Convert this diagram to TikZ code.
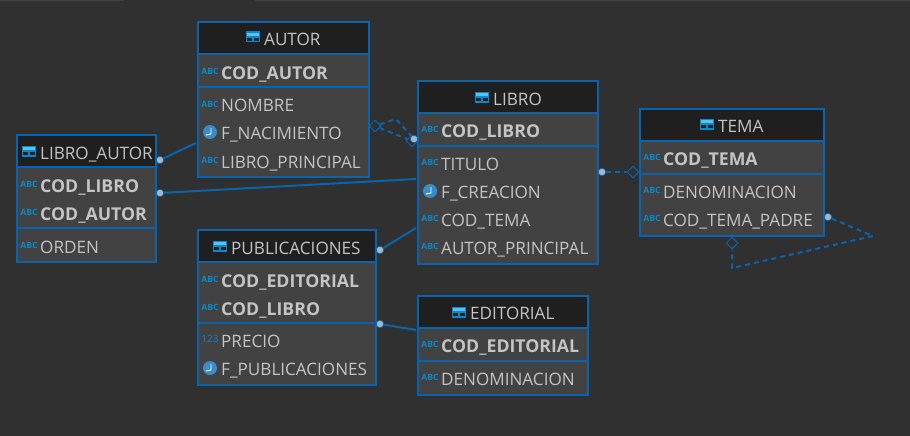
\documentclass[tikz,border=0pt]{standalone}
\usepackage{fontspec}
\setmainfont{Open Sans}
\usetikzlibrary{shapes.geometric}
\definecolor{bgc}{HTML}{303030}
\definecolor{headc}{HTML}{1F1F1F}
\definecolor{bodyc}{HTML}{424242}
\definecolor{edgec}{HTML}{0A64AD}
\definecolor{txtc}{HTML}{C4C4C4}
\definecolor{iconc}{HTML}{0A88CC}
\definecolor{dotc}{HTML}{A4B6C8}
\definecolor{clockc}{HTML}{3A8CC8}
\definecolor{paneC}{HTML}{5CC0EE}
\tikzset{
  x=1pt,y=-1pt,
  tablebox/.style={draw=edgec,line width=2pt,fill=bodyc,rectangle,inner sep=0pt,outer sep=0pt},
  rowline/.style={draw=edgec,line width=1.1pt},
  headtext/.style={anchor=base west,yshift=-6pt,inner sep=0pt,text=txtc,font=\fontsize{17.1}{20}\selectfont},
  plainfield/.style={anchor=base west,yshift=-6pt,inner sep=0pt,text=txtc,font=\fontsize{17.1}{20}\selectfont},
  keyfield/.style={anchor=base west,yshift=-6pt,inner sep=0pt,text=txtc,font=\fontsize{17.7}{20}\selectfont\bfseries},
  typeicon/.style={anchor=center,inner sep=0pt,text=iconc,font=\fontsize{8.6}{10}\selectfont\bfseries},
  numicon/.style={anchor=center,inner sep=0pt,text=iconc,font=\fontsize{10}{11}\selectfont},
  link/.style={draw=edgec,line width=2pt},
  dashlink/.style={draw=edgec,line width=2pt,dash pattern=on 5pt off 4pt},
  portdot/.style={circle,fill=dotc,draw=edgec,line width=.6pt,minimum size=7.5pt,inner sep=0pt},
  hollowtip/.style={diamond,draw=edgec,line width=1pt,fill=none,minimum size=12pt,inner sep=0pt},
}
\newcommand{\tabicon}[2]{%
  \fill[iconc] (#1-7,#2-5.5) rectangle (#1+7,#2+5.5);
  \fill[paneC] (#1-5.6,#2-3.7) rectangle (#1+5.6,#2-.8);
  \fill[headc] (#1-5.6,#2+.7) rectangle (#1-.6,#2+4);
  \fill[headc] (#1+.6,#2+.7) rectangle (#1+5.6,#2+4);
}
\newcommand{\clockicon}[2]{%
  \fill[clockc] (#1,#2) circle (7);
  \draw[white,line width=.9pt] (#1+1,#2-4) -- (#1+1,#2+2) -- (#1-4,#2+3);
}
\newcommand{\maketable}[7]{% name, x1,y1,x2,y2, header bottom, divider
  \node[tablebox,minimum width=#4-#2,minimum height=#5-#3,anchor=north west] (#1) at (#2,#3) {};
  \fill[headc] (#2+1,#3+1) rectangle (#4-1,#6);
  \draw[rowline] (#2,#6) -- (#4,#6);
  \draw[rowline] (#2,#7) -- (#4,#7);
}
\begin{document}
\begin{tikzpicture}
\useasboundingbox (0,0) rectangle (910,436);
\fill[bgc] (0,0) rectangle (910,436);
\fill[bodyc] (0,0) rectangle (124,1);
\fill[bodyc] (255,0) rectangle (910,1);

\coordinate (laA) at (160,160);
\coordinate (laB) at (160,193);
\coordinate (pubA) at (380,250);
\coordinate (pubB) at (380,324);
\coordinate (lbT) at (602,172);
\coordinate (temaP) at (828,217);
\coordinate (bendA) at (396,119);
\coordinate (bendB) at (873,236);
\coordinate (bendC) at (732,268);
\coordinate (inAutor) at (196,143);
\coordinate (inLibroA) at (416,179);
\coordinate (inLibroB) at (416,228);
\coordinate (inEdit) at (416,330);

\maketable{autor}{198}{22}{369}{177}{54}{87}
\maketable{libroautor}{17}{135}{156}{262}{167}{228}
\maketable{publi}{198}{230}{376}{385}{262}{323}
\maketable{libro}{418}{81}{598}{264}{113}{146}
\maketable{tema}{640}{109}{824}{236}{141}{174}
\maketable{editorial}{418}{296}{588}{395}{328}{361}

\node[portdot] (dLaA) at (laA) {};
\node[portdot] (dLaB) at (laB) {};
\node[portdot] (dPubA) at (pubA) {};
\node[portdot] (dPubB) at (pubB) {};
\node[portdot] (dLbT) at (lbT) {};
\node[portdot] (dTema) at (temaP) {};
\node[hollowtip] (tipAutor) at (375,126) {};
\node[hollowtip] (tipLibro) at (412,141) {};
\node[hollowtip] (tipTema) at (633,172) {};
\node[hollowtip] (tipSelf) at (732,243) {};
\node[portdot] (dLbA) at (414,139) {};

\draw[link] (dLaA) -- (inAutor);
\draw[link] (dLaB) -- (inLibroA);
\draw[link] (dPubA) -- (inLibroB);
\draw[link] (dPubB) -- (inEdit);
\draw[dashlink] (tipAutor) -- (bendA) -- (dLbA);
\draw[dashlink] (tipAutor) -- (tipLibro);
\draw[dashlink] (dLbT) -- (tipTema);
\draw[dashlink] (dTema) -- (bendB) -- (bendC) -- (tipSelf);

% AUTOR
\tabicon{253}{37}
\node[headtext] (autorH) at (264,39.5) {AUTOR};
\node[typeicon] (a1i) at (210,71) {ABC};
\node[keyfield] (a1) at (221,73) {COD\_AUTOR};
\node[typeicon] (a2i) at (210,104) {ABC};
\node[plainfield] (a2) at (221,105.5) {NOMBRE};
\clockicon{210}{132}
\node[plainfield] (a3) at (221,133.5) {F\_NACIMIENTO};
\node[typeicon] (a4i) at (210,160) {ABC};
\node[plainfield] (a4) at (221,162) {LIBRO\_PRINCIPAL};

% LIBRO_AUTOR
\tabicon{29}{151}
\node[headtext] (laH) at (40,153) {LIBRO\_AUTOR};
\node[typeicon] (l1i) at (29,184) {ABC};
\node[keyfield] (l1) at (40,186) {COD\_LIBRO};
\node[typeicon] (l2i) at (29,212) {ABC};
\node[keyfield] (l2) at (40,214) {COD\_AUTOR};
\node[typeicon] (l3i) at (29,245) {ABC};
\node[plainfield] (l3) at (40,247) {ORDEN};

% PUBLICACIONES
\tabicon{220}{246}
\node[headtext] (pH) at (231,248) {PUBLICACIONES};
\node[typeicon] (p1i) at (210,279) {ABC};
\node[keyfield] (p1) at (221,281) {COD\_EDITORIAL};
\node[typeicon] (p2i) at (210,307) {ABC};
\node[keyfield] (p2) at (221,309) {COD\_LIBRO};
\node[numicon] (p3i) at (210,339) {123};
\node[plainfield] (p3) at (221,341) {PRECIO};
\clockicon{210}{368}
\node[plainfield] (p4) at (221,369.5) {F\_PUBLICACIONES};

% LIBRO
\tabicon{482}{97}
\node[headtext] (lbH) at (493,99) {LIBRO};
\node[typeicon] (b1i) at (430,129) {ABC};
\node[keyfield] (b1) at (441,131.5) {COD\_LIBRO};
\node[typeicon] (b2i) at (430,162) {ABC};
\node[plainfield] (b2) at (441,164) {TITULO};
\clockicon{430}{191}
\node[plainfield] (b3) at (441,192.5) {F\_CREACION};
\node[typeicon] (b4i) at (430,218) {ABC};
\node[plainfield] (b4) at (441,220.5) {COD\_TEMA};
\node[typeicon] (b5i) at (430,246) {ABC};
\node[plainfield] (b5) at (441,248.5) {AUTOR\_PRINCIPAL};

% TEMA
\tabicon{707}{124}
\node[headtext] (tH) at (718,126) {TEMA};
\node[typeicon] (t1i) at (652,157) {ABC};
\node[keyfield] (t1) at (663,159.5) {COD\_TEMA};
\node[typeicon] (t2i) at (652,190) {ABC};
\node[plainfield] (t2) at (663,192.5) {DENOMINACION};
\node[typeicon] (t3i) at (652,218) {ABC};
\node[plainfield] (t3) at (663,220.5) {COD\_TEMA\_PADRE};

% EDITORIAL
\tabicon{459}{312}
\node[headtext] (eH) at (470,313.5) {EDITORIAL};
\node[typeicon] (e1i) at (430,344) {ABC};
\node[keyfield] (e1) at (441,346.5) {COD\_EDITORIAL};
\node[typeicon] (e2i) at (430,377) {ABC};
\node[plainfield] (e2) at (441,379.5) {DENOMINACION};
\end{tikzpicture}
\end{document}
